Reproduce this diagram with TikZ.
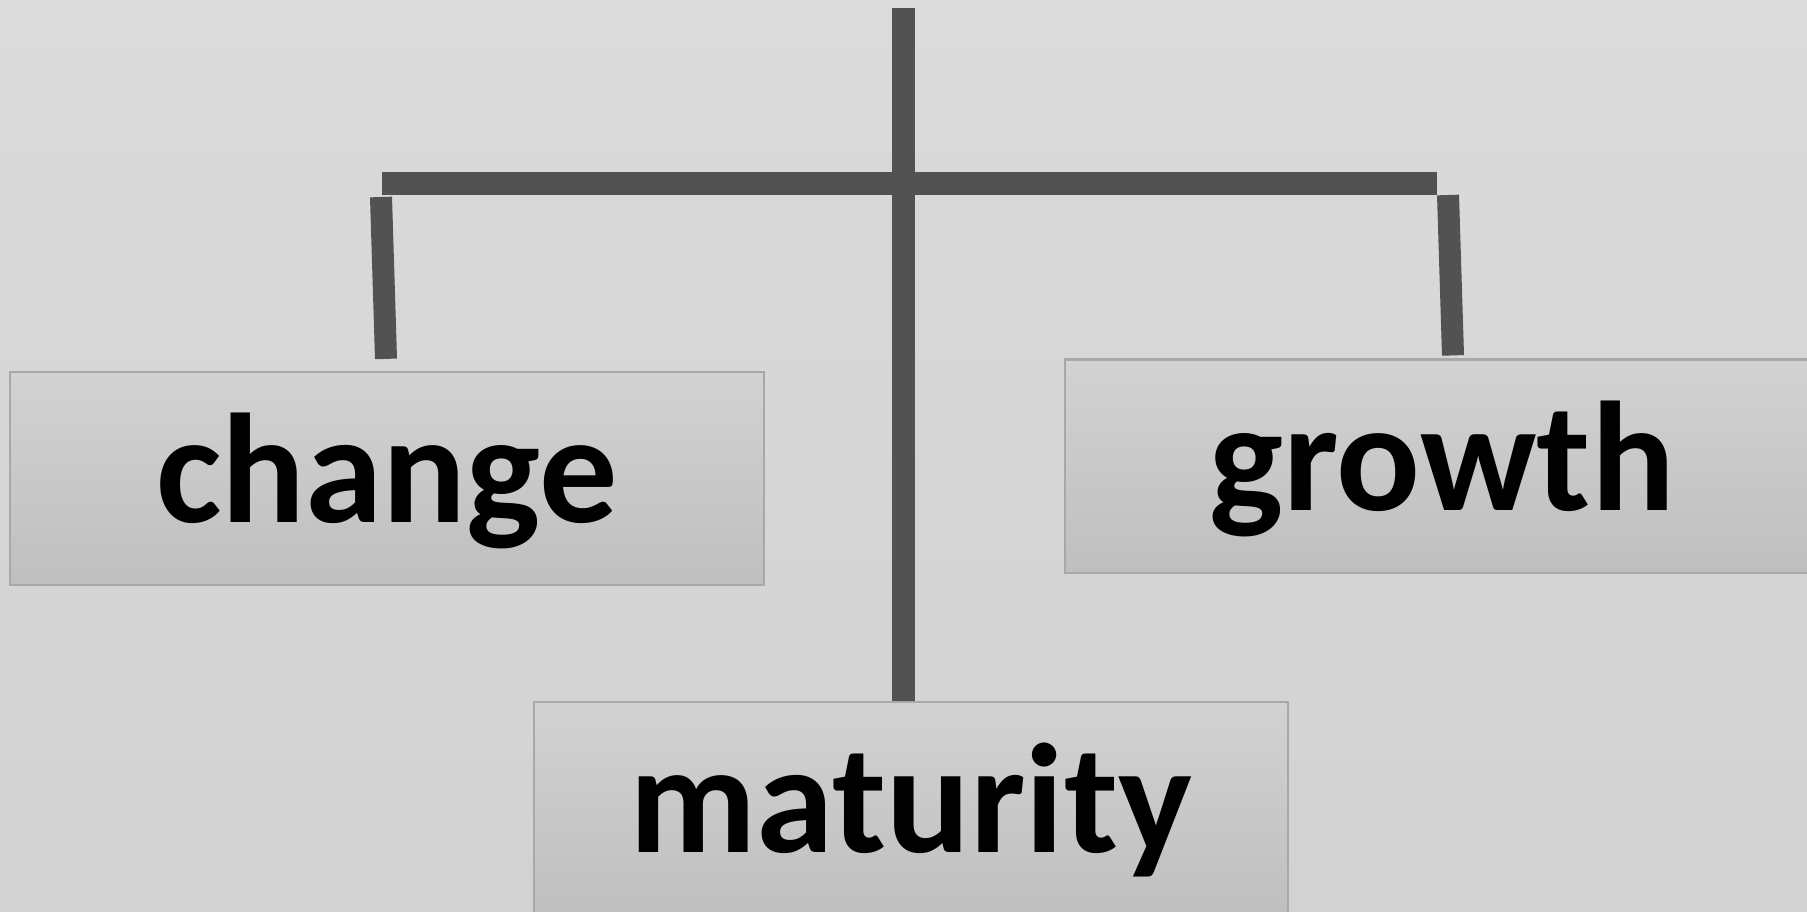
\documentclass[tikz,border=0pt]{standalone}
\usepackage{fontspec}
\setmainfont{Carlito}
\usetikzlibrary{calc}

\definecolor{bargray}{HTML}{525252}
\definecolor{boxline}{HTML}{A8A8A8}
\definecolor{boxtop}{HTML}{D2D2D2}
\definecolor{boxbot}{HTML}{BFBFBF}
\definecolor{bgtop}{HTML}{DBDBDB}
\definecolor{bgbot}{HTML}{D2D2D2}

\tikzset{
  wordbox/.style={rectangle, draw=boxline, line width=0.6pt,
    top color=boxtop, bottom color=boxbot,
    minimum width=7.53cm, minimum height=2.13cm, inner sep=0pt,
    font=\fontsize{44.4}{53}\selectfont\bfseries,
    text height=1.1cm, text depth=0.22cm},
  bar/.style={draw=bargray, line width=0.23cm}
}

\begin{document}
\begin{tikzpicture}[x=0.01cm, y=-0.01cm]
  \clip (0,0) rectangle (1807,911);
  \shade[top color=bgtop, bottom color=bgbot] (0,0) rectangle (1807,911);

  % the three words
  \node[wordbox] (change)   at (387,478.5)  {change};
  \node[wordbox] (growth)   at (1442,466)   {growth};
  \node[wordbox] (maturity) at (911,808.5)  {maturity};

  % ends of the beam
  \coordinate (stemtop) at (903.5,8);
  \coordinate (beaml)   at (382,183.5);
  \coordinate (beamr)   at (1437,183.5);
  \coordinate (hangl)   at (381,197);
  \coordinate (hangr)   at (1448,195);

  \draw[bar] (stemtop) -- ($(maturity.north)+(-7.5,0)$);
  \draw[bar] (beaml) -- (beamr);
  \draw[bar, line width=0.22cm] (hangl) -- ($(change.north)+(-1,-12)$);
  \draw[bar, line width=0.22cm] (hangr) -- ($(growth.north)+(11,-3)$);
\end{tikzpicture}
\end{document}
